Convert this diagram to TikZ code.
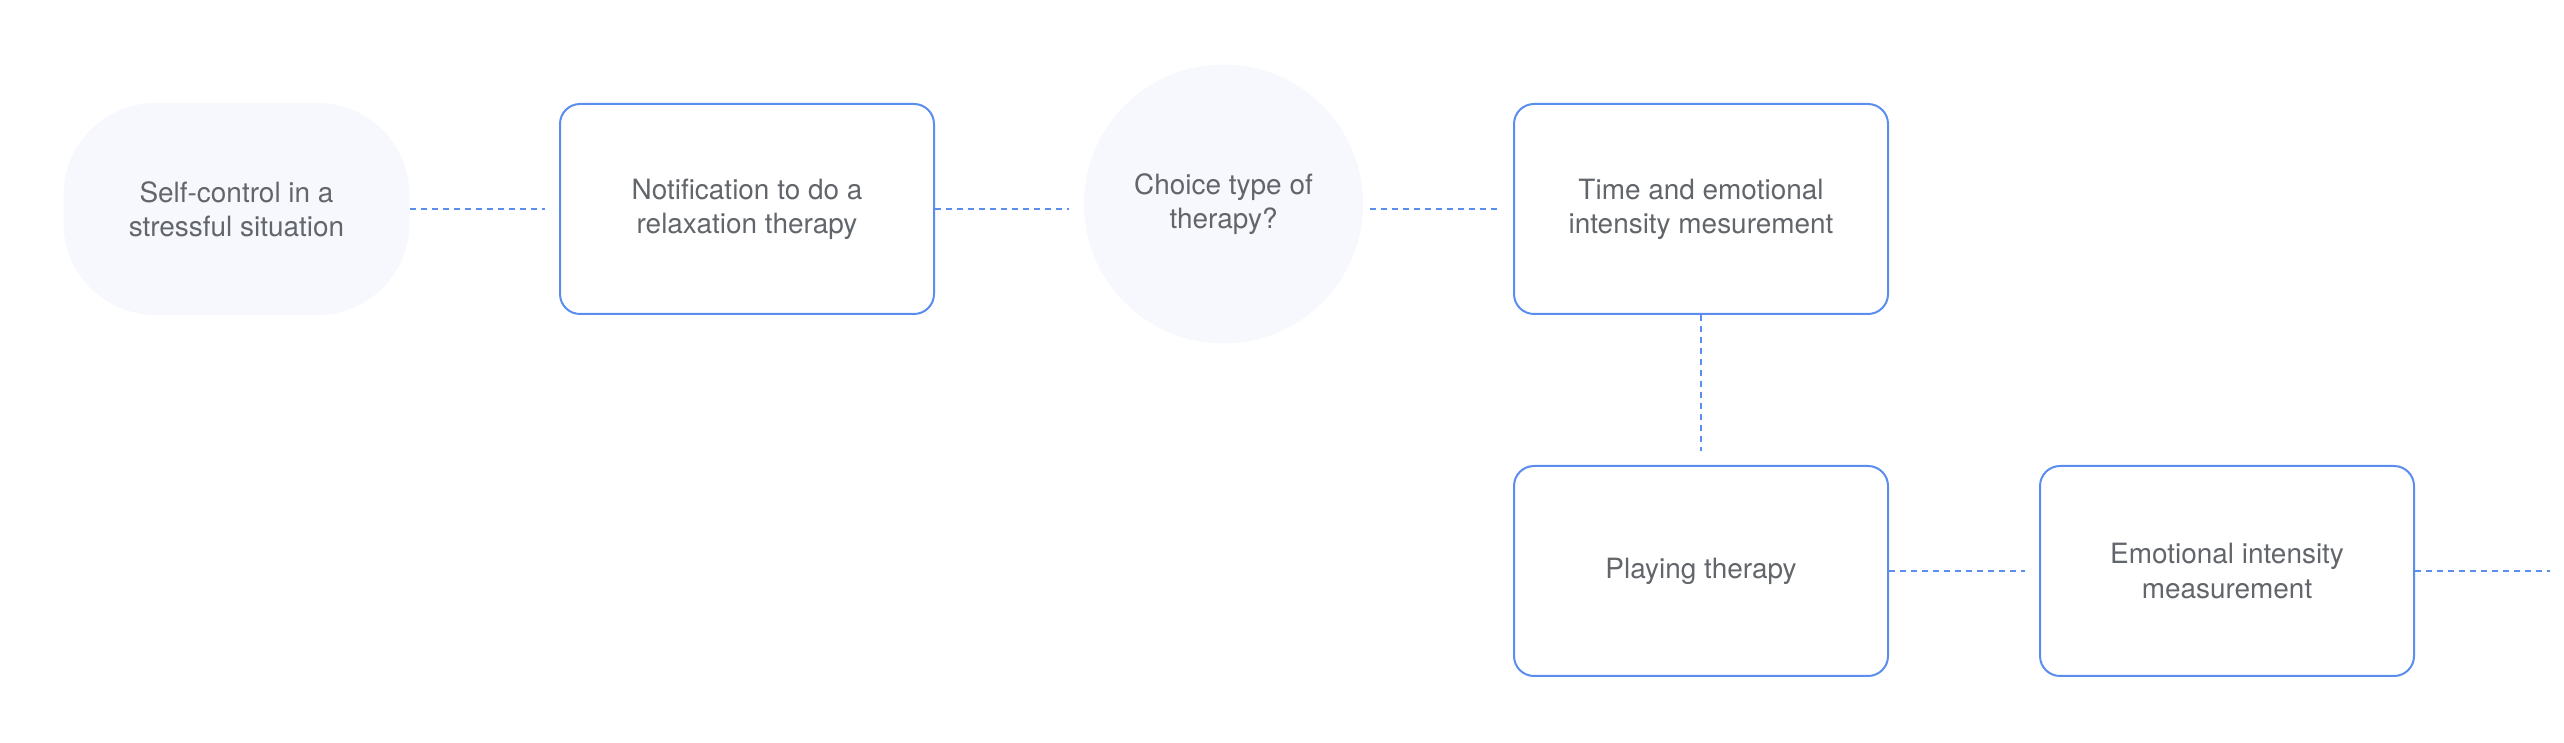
\documentclass[tikz,border=0pt]{standalone}
\usepackage{fontspec}
\setmainfont{TeX Gyre Heros}

\definecolor{flowblue}{HTML}{5B8DEF}
\definecolor{softfill}{HTML}{F6F8FE}
\definecolor{labelgrey}{HTML}{62666B}

\tikzset{
  label text/.style={text=labelgrey, align=center, inner sep=0pt,
    font=\fontsize{7.95pt}{9.7pt}\selectfont},
  stepbox/.style={label text, rectangle, draw=flowblue, line width=0.02cm,
    rounded corners=0.2cm, minimum width=3.74cm, minimum height=2.1cm},
  pill/.style={label text, rectangle, fill=softfill, rounded corners=0.92cm,
    minimum width=3.46cm, minimum height=2.12cm},
  choicecircle/.style={label text, circle, fill=softfill, minimum size=2.79cm},
  link/.style={draw=flowblue, line width=0.02cm,
    dash pattern=on 0.06cm off 0.05cm, shorten >=0.14cm}
}

\begin{document}
\begin{tikzpicture}
  \useasboundingbox (0,0) rectangle (25.64,7.42);

  % riga superiore
  \node[pill] (selfcontrol) at (2.365,5.33) {Self-control in a\\stressful situation};
  \node[stepbox] (notify) at (7.47,5.33) {Notification to do a\\relaxation therapy};
  \node[choicecircle] (choice) at (12.235,5.38) {Choice type of\\therapy?};
  \node[stepbox] (timemeasure) at (17.01,5.33) {Time and emotional\\intensity mesurement};

  % riga inferiore
  \node[stepbox] (playing) at (17.01,1.71) {Playing therapy};
  \node[stepbox] (emomeasure) at (22.27,1.71) {Emotional intensity\\measurement};
  \coordinate (tail) at (25.64,1.71);

  % collegamenti
  \draw[link] (selfcontrol.east) -- (notify.west);
  \draw[link] (notify.east) -- (choice.west |- notify.east);
  \draw[link, shorten <=0.06cm] (choice.east |- timemeasure.west) -- (timemeasure.west);
  \draw[link] (timemeasure.south) -- (playing.north);
  \draw[link] (playing.east) -- (emomeasure.west);
  \draw[link] (emomeasure.east) -- (tail);
\end{tikzpicture}
\end{document}
